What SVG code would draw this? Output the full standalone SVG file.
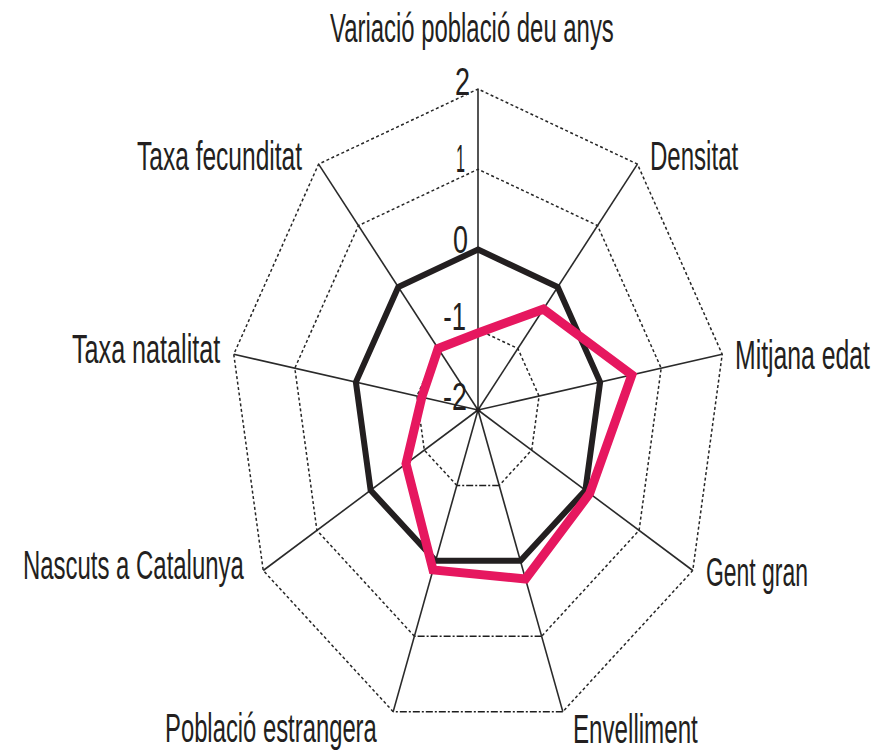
<svg xmlns="http://www.w3.org/2000/svg" width="877" height="751" viewBox="0 0 877 751">
<style>
.ring{fill:none;stroke:#262626;stroke-width:1.5;stroke-dasharray:3 2.5}
.ringb{fill:none;stroke:#1e1e1e;stroke-width:1.5;stroke-dasharray:7 2 2 2}
.axis{stroke:#2a2a2a;stroke-width:1.6}
.lbl{font-family:"Liberation Sans",Arial,sans-serif;font-size:40px;fill:#231f20}
.tick{font-family:"Liberation Sans",Arial,sans-serif;font-size:38px;fill:#231f20;text-anchor:end}
.s-black{fill:none;stroke:#231f20;stroke-width:6;stroke-linejoin:miter}
.s-pink{fill:none;stroke:#e6175f;stroke-width:9;stroke-linejoin:miter}
</style>
<rect width="877" height="751" fill="#fff"/>
<g id="grid">
<polyline class="ring" points="456.80,485.41 424.31,450.13 416.94,396.07 438.15,348.53 478,329.75 517.85,348.53 539.06,396.07 531.69,450.13 499.21,485.41"/>
<line class="ringb" x1="499.21" y1="485.41" x2="456.80" y2="485.41"/>
<polyline class="ring" points="435.59,560.82 370.62,490.25 355.89,382.13 398.29,287.05 478,249.5 557.71,287.05 600.12,382.13 585.39,490.25 520.41,560.82"/>
<line class="ringb" x1="520.41" y1="560.82" x2="435.59" y2="560.82"/>
<polyline class="ring" points="414.39,636.23 316.92,530.38 294.83,368.20 358.44,225.58 478,169.25 597.56,225.58 661.17,368.20 639.08,530.38 541.62,636.23"/>
<line class="ringb" x1="541.62" y1="636.23" x2="414.39" y2="636.23"/>
<polyline class="ring" points="393.18,711.64 263.23,570.5 233.77,354.26 318.59,164.10 478,89 637.41,164.10 722.23,354.26 692.77,570.5 562.82,711.64"/>
<line class="ringb" x1="562.82" y1="711.64" x2="393.18" y2="711.64"/>
</g>
<g id="axes">
<line class="axis" x1="478" y1="410" x2="478" y2="89"/>
<line class="axis" x1="478" y1="410" x2="637.41" y2="164.10"/>
<line class="axis" x1="478" y1="410" x2="722.23" y2="354.26"/>
<line class="axis" x1="478" y1="410" x2="692.77" y2="570.5"/>
<line class="axis" x1="478" y1="410" x2="562.82" y2="711.64"/>
<line class="axis" x1="478" y1="410" x2="393.18" y2="711.64"/>
<line class="axis" x1="478" y1="410" x2="263.23" y2="570.5"/>
<line class="axis" x1="478" y1="410" x2="233.77" y2="354.26"/>
<line class="axis" x1="478" y1="410" x2="318.59" y2="164.10"/>
<circle cx="478" cy="410" r="2.5" fill="#231f20"/>
</g>
<g id="ticks">
<text class="tick" transform="translate(470,95) scale(0.6,1)" textLength="25" lengthAdjust="spacingAndGlyphs">2</text>
<text class="tick" transform="translate(465,172) scale(0.6,1)" textLength="15" lengthAdjust="spacingAndGlyphs">1</text>
<text class="tick" transform="translate(468,253) scale(0.6,1)" textLength="25" lengthAdjust="spacingAndGlyphs">0</text>
<text class="tick" transform="translate(466,330) scale(0.6,1)" textLength="38" lengthAdjust="spacingAndGlyphs">-1</text>
<text class="tick" transform="translate(467,410) scale(0.6,1)" textLength="40" lengthAdjust="spacingAndGlyphs">-2</text>
</g>
<g id="series">
<polygon id="series-black" class="s-black" points="478,249.5 557.71,287.05 600.12,382.13 585.39,490.25 520.41,560.82 435.59,560.82 370.62,490.25 355.89,382.13 398.29,287.05"/>
<polygon id="series-pink" class="s-pink" points="478,332.96 543.36,309.18 631.86,374.88 589.68,493.46 525.50,578.92 433.0,569.87 406.05,463.77 421.83,397.18 438.15,348.52"/>
</g>
<g id="labels">
<text class="lbl" transform="translate(330,42) scale(0.6,1)" textLength="473" lengthAdjust="spacingAndGlyphs">Variació població deu anys</text>
<text class="lbl" transform="translate(650,170) scale(0.6,1)" textLength="147" lengthAdjust="spacingAndGlyphs">Densitat</text>
<text class="lbl" transform="translate(735,369) scale(0.6,1)" textLength="225" lengthAdjust="spacingAndGlyphs">Mitjana edat</text>
<text class="lbl" transform="translate(706,586) scale(0.6,1)" textLength="170" lengthAdjust="spacingAndGlyphs">Gent gran</text>
<text class="lbl" transform="translate(573,743) scale(0.6,1)" textLength="208" lengthAdjust="spacingAndGlyphs">Envelliment</text>
<text class="lbl" transform="translate(165,742) scale(0.6,1)" textLength="353" lengthAdjust="spacingAndGlyphs">Població estrangera</text>
<text class="lbl" transform="translate(23,579) scale(0.6,1)" textLength="368" lengthAdjust="spacingAndGlyphs">Nascuts a Catalunya</text>
<text class="lbl" transform="translate(72,363) scale(0.6,1)" textLength="247" lengthAdjust="spacingAndGlyphs">Taxa natalitat</text>
<text class="lbl" transform="translate(137,170) scale(0.6,1)" textLength="275" lengthAdjust="spacingAndGlyphs">Taxa fecunditat</text>
</g>
</svg>
